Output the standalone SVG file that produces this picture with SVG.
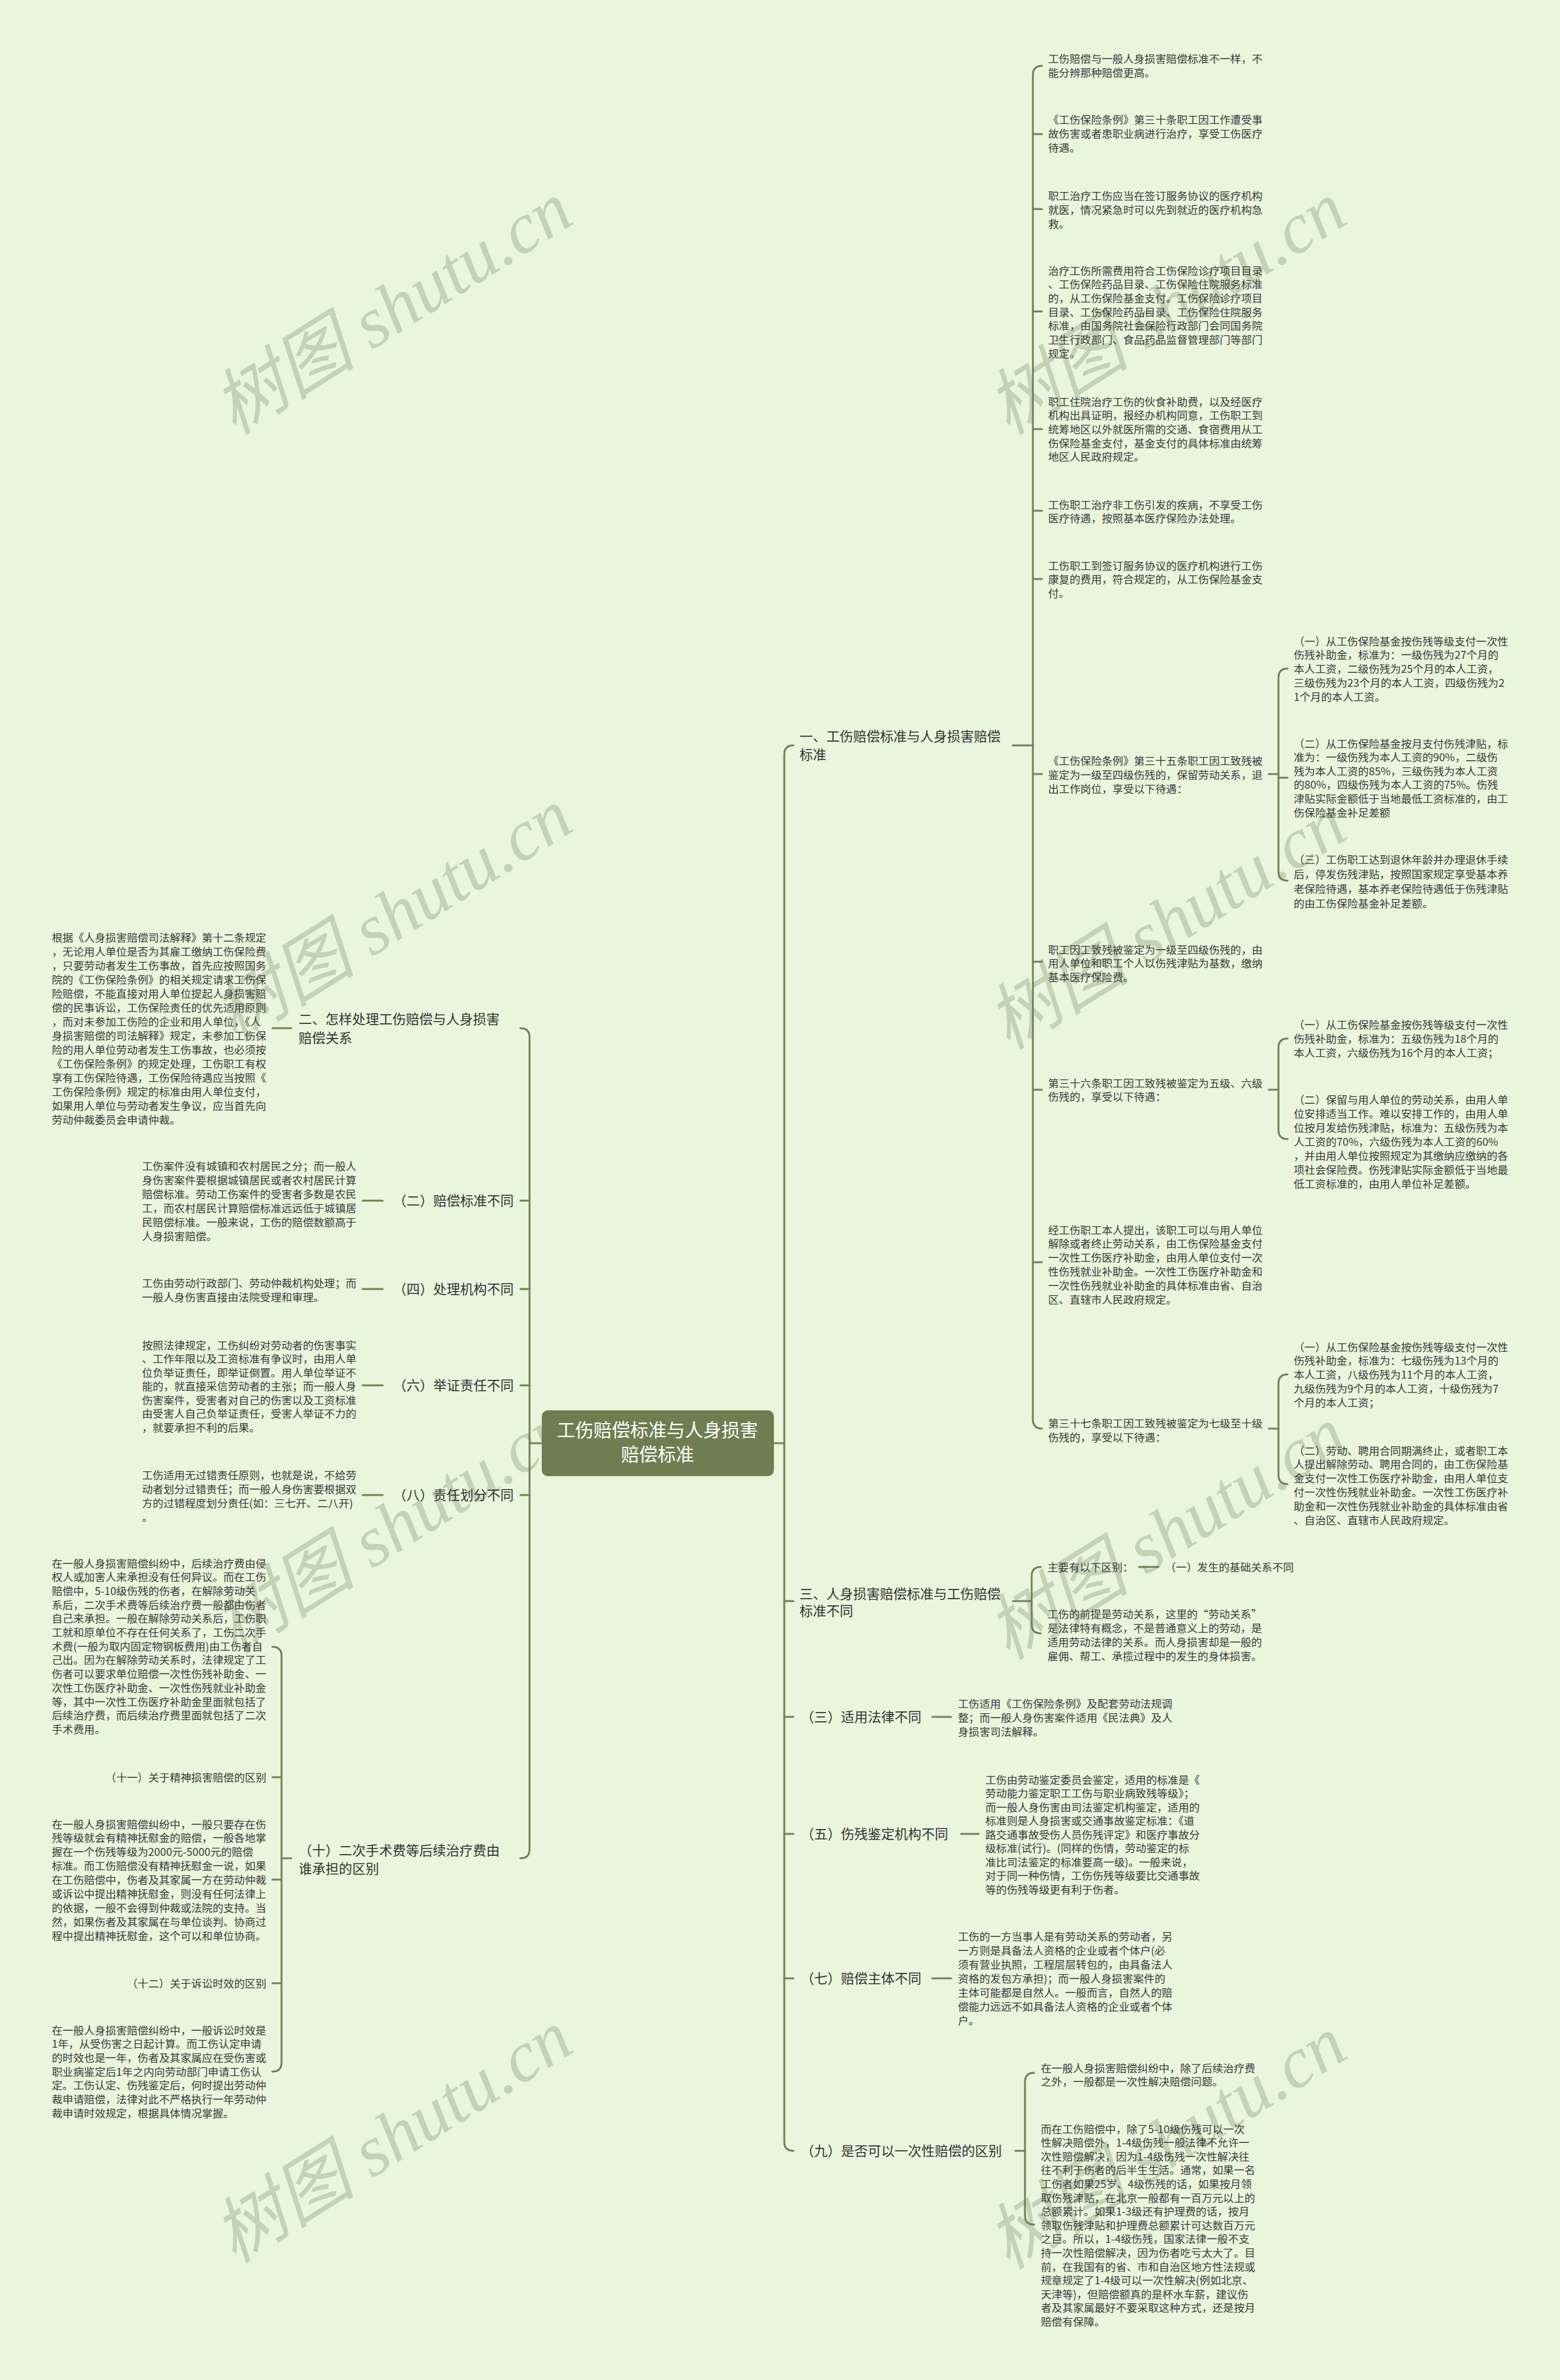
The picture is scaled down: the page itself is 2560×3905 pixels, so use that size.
<svg xmlns="http://www.w3.org/2000/svg" width="2560" height="3905" viewBox="0 0 2560 3905">
<style>
text{font-family:"Noto Sans CJK SC","Noto Sans",sans-serif}
.lf{font-size:17.6px;fill:#3a3a3a}
.lb{font-size:22px;fill:#333333}
.ct{font-size:30px;fill:#ffffff}
.wm{font-family:"Liberation Serif","Noto Sans CJK SC",serif;font-size:118px;font-style:italic;fill:#c4d2b5}
.c{fill:none;stroke:#727f53;stroke-width:3;stroke-linecap:round;stroke-linejoin:round}
</style>
<rect width="2560" height="3905" fill="#e9f5dd"/>
<g id="watermarks">
<text class="wm" x="647" y="545" text-anchor="middle" transform="rotate(-32 647 510)">树图 shutu.cn</text>
<text class="wm" x="1917" y="545" text-anchor="middle" transform="rotate(-32 1917 510)">树图 shutu.cn</text>
<text class="wm" x="647" y="1541" text-anchor="middle" transform="rotate(-32 647 1506)">树图 shutu.cn</text>
<text class="wm" x="1917" y="1554" text-anchor="middle" transform="rotate(-32 1917 1519)">树图 shutu.cn</text>
<text class="wm" x="647" y="2545" text-anchor="middle" transform="rotate(-32 647 2510)">树图 shutu.cn</text>
<text class="wm" x="1917" y="2555" text-anchor="middle" transform="rotate(-32 1917 2520)">树图 shutu.cn</text>
<text class="wm" x="647" y="3545" text-anchor="middle" transform="rotate(-32 647 3510)">树图 shutu.cn</text>
<text class="wm" x="1917" y="3555" text-anchor="middle" transform="rotate(-32 1917 3520)">树图 shutu.cn</text>
</g>
<g id="connectors">
<!-- right trunk -->
<path class="c" d="M1270 2368 H1287"/>
<path class="c" d="M1302 1223 Q1287 1223 1287 1238 V3514 Q1287 3529 1302 3529"/>
<path class="c" d="M1287 2627 H1302 M1287 2817 H1302 M1287 3009 H1302 M1287 3246 H1302"/>
<!-- branch one -->
<path class="c" d="M1662 1223 H1695"/>
<path class="c" d="M1710 108 Q1695 108 1695 123 V2329 Q1695 2344 1710 2344"/>
<path class="c" d="M1695 220 H1710 M1695 343 H1710 M1695 511 H1710 M1695 704 H1710 M1695 838 H1710 M1695 950 H1710 M1695 1270 H1710 M1695 1578 H1710 M1695 1788 H1710 M1695 2071 H1710"/>
<path class="c" d="M2082 1270 H2098"/>
<path class="c" d="M2113 1097 Q2098 1097 2098 1112 V1430 Q2098 1445 2113 1445 M2098 1276 H2113"/>
<path class="c" d="M2082 1788 H2098"/>
<path class="c" d="M2113 1704 Q2098 1704 2098 1719 V1854 Q2098 1869 2113 1869"/>
<path class="c" d="M2082 2344 H2098"/>
<path class="c" d="M2113 2255 Q2098 2255 2098 2270 V2420 Q2098 2435 2113 2435"/>
<!-- branch three -->
<path class="c" d="M1662 2627 H1693"/>
<path class="c" d="M1708 2571 Q1693 2571 1693 2586 V2665 Q1693 2680 1708 2680"/>
<path class="c" d="M1869 2571 H1901"/>
<path class="c" d="M1530 2817 H1561"/>
<path class="c" d="M1577 3009 H1606"/>
<path class="c" d="M1530 3246 H1561"/>
<path class="c" d="M1666 3529 H1682"/>
<path class="c" d="M1697 3401 Q1682 3401 1682 3416 V3635 Q1682 3650 1697 3650"/>
<!-- left trunk -->
<path class="c" d="M888 2368 H869"/>
<path class="c" d="M854 1687 Q869 1687 869 1702 V3034 Q869 3049 854 3049"/>
<path class="c" d="M869 1970 H854 M869 2115 H854 M869 2273 H854 M869 2453 H854"/>
<path class="c" d="M447 1687 H478"/>
<path class="c" d="M595 1970 H628 M595 2115 H628 M595 2273 H628 M595 2453 H628"/>
<path class="c" d="M478 3049 H462"/>
<path class="c" d="M447 2702 Q462 2702 462 2717 V3384 Q462 3399 447 3399 M462 2916 H447 M462 3084 H447 M462 3254 H447"/>
</g>
<g id="center">
<rect x="889" y="2314" width="381" height="108" rx="10" fill="#6f7d50"/>
<text class="ct" text-anchor="middle"><tspan x="1079" y="2357">工伤赔偿标准与人身损害</tspan><tspan x="1079" y="2397">赔偿标准</tspan></text>
</g>
<g id="b1">
<text class="lb"><tspan x="1312" y="1216">一、工伤赔偿标准与人身损害赔偿</tspan><tspan x="1312" dy="30">标准</tspan></text>
</g>
<g id="b1-1"><text class="lf"><tspan x="1720" y="102.5">工伤赔偿与一般人身损害赔偿标准不一样，不</tspan><tspan x="1720" dy="23">能分辨那种赔偿更高。</tspan></text></g>
<g id="b1-2"><text class="lf"><tspan x="1720" y="202.5">《工伤保险条例》第三十条职工因工作遭受事</tspan><tspan x="1720" dy="23">故伤害或者患职业病进行治疗，享受工伤医疗</tspan><tspan x="1720" dy="23">待遇。</tspan></text></g>
<g id="b1-3"><text class="lf"><tspan x="1720" y="327.5">职工治疗工伤应当在签订服务协议的医疗机构</tspan><tspan x="1720" dy="23">就医，情况紧急时可以先到就近的医疗机构急</tspan><tspan x="1720" dy="23">救。</tspan></text></g>
<g id="b1-4"><text class="lf"><tspan x="1720" y="450.5">治疗工伤所需费用符合工伤保险诊疗项目目录</tspan><tspan x="1720" dy="22.7">、工伤保险药品目录、工伤保险住院服务标准</tspan><tspan x="1720" dy="22.7">的，从工伤保险基金支付。工伤保险诊疗项目</tspan><tspan x="1720" dy="22.7">目录、工伤保险药品目录、工伤保险住院服务</tspan><tspan x="1720" dy="22.7">标准，由国务院社会保险行政部门会同国务院</tspan><tspan x="1720" dy="22.7">卫生行政部门、食品药品监督管理部门等部门</tspan><tspan x="1720" dy="22.7">规定。</tspan></text></g>
<g id="b1-5"><text class="lf"><tspan x="1720" y="665.5">职工住院治疗工伤的伙食补助费，以及经医疗</tspan><tspan x="1720" dy="22.7">机构出具证明，报经办机构同意，工伤职工到</tspan><tspan x="1720" dy="22.7">统筹地区以外就医所需的交通、食宿费用从工</tspan><tspan x="1720" dy="22.7">伤保险基金支付，基金支付的具体标准由统筹</tspan><tspan x="1720" dy="22.7">地区人民政府规定。</tspan></text></g>
<g id="b1-6"><text class="lf"><tspan x="1720" y="834.5">工伤职工治疗非工伤引发的疾病，不享受工伤</tspan><tspan x="1720" dy="22.7">医疗待遇，按照基本医疗保险办法处理。</tspan></text></g>
<g id="b1-7"><text class="lf"><tspan x="1720" y="934.5">工伤职工到签订服务协议的医疗机构进行工伤</tspan><tspan x="1720" dy="22.7">康复的费用，符合规定的，从工伤保险基金支</tspan><tspan x="1720" dy="22.7">付。</tspan></text></g>
<g id="b1-8"><text class="lf"><tspan x="1720" y="1254.5">《工伤保险条例》第三十五条职工因工致残被</tspan><tspan x="1720" dy="23">鉴定为一级至四级伤残的，保留劳动关系，退</tspan><tspan x="1720" dy="23">出工作岗位，享受以下待遇：</tspan></text></g>
<g id="b1-8a"><text class="lf"><tspan x="2123" y="1058.5">（一）从工伤保险基金按伤残等级支付一次性</tspan><tspan x="2123" dy="22.8">伤残补助金，标准为：一级伤残为27个月的</tspan><tspan x="2123" dy="22.8">本人工资，二级伤残为25个月的本人工资，</tspan><tspan x="2123" dy="22.8">三级伤残为23个月的本人工资，四级伤残为2</tspan><tspan x="2123" dy="22.8">1个月的本人工资。</tspan></text></g>
<g id="b1-8b"><text class="lf"><tspan x="2123" y="1226.5">（二）从工伤保险基金按月支付伤残津贴，标</tspan><tspan x="2123" dy="22.6">准为：一级伤残为本人工资的90%，二级伤</tspan><tspan x="2123" dy="22.6">残为本人工资的85%，三级伤残为本人工资</tspan><tspan x="2123" dy="22.6">的80%，四级伤残为本人工资的75%。伤残</tspan><tspan x="2123" dy="22.6">津贴实际金额低于当地最低工资标准的，由工</tspan><tspan x="2123" dy="22.6">伤保险基金补足差额</tspan></text></g>
<g id="b1-8c"><text class="lf"><tspan x="2123" y="1416.5">（三）工伤职工达到退休年龄并办理退休手续</tspan><tspan x="2123" dy="24">后，停发伤残津贴，按照国家规定享受基本养</tspan><tspan x="2123" dy="24">老保险待遇，基本养老保险待遇低于伤残津贴</tspan><tspan x="2123" dy="24">的由工伤保险基金补足差额。</tspan></text></g>
<g id="b1-9"><text class="lf"><tspan x="1720" y="1564.5">职工因工致残被鉴定为一级至四级伤残的，由</tspan><tspan x="1720" dy="22.8">用人单位和职工个人以伤残津贴为基数，缴纳</tspan><tspan x="1720" dy="22.8">基本医疗保险费。</tspan></text></g>
<g id="b1-10"><text class="lf"><tspan x="1720" y="1783.5">第三十六条职工因工致残被鉴定为五级、六级</tspan><tspan x="1720" dy="22.8">伤残的，享受以下待遇：</tspan></text></g>
<g id="b1-10a"><text class="lf"><tspan x="2123" y="1687.5">（一）从工伤保险基金按伤残等级支付一次性</tspan><tspan x="2123" dy="23">伤残补助金，标准为：五级伤残为18个月的</tspan><tspan x="2123" dy="23">本人工资，六级伤残为16个月的本人工资；</tspan></text></g>
<g id="b1-10b"><text class="lf"><tspan x="2123" y="1810.5">（二）保留与用人单位的劳动关系，由用人单</tspan><tspan x="2123" dy="23">位安排适当工作。难以安排工作的，由用人单</tspan><tspan x="2123" dy="23">位按月发给伤残津贴，标准为：五级伤残为本</tspan><tspan x="2123" dy="23">人工资的70%，六级伤残为本人工资的60%</tspan><tspan x="2123" dy="23">，并由用人单位按照规定为其缴纳应缴纳的各</tspan><tspan x="2123" dy="23">项社会保险费。伤残津贴实际金额低于当地最</tspan><tspan x="2123" dy="23">低工资标准的，由用人单位补足差额。</tspan></text></g>
<g id="b1-11"><text class="lf"><tspan x="1720" y="2024.5">经工伤职工本人提出，该职工可以与用人单位</tspan><tspan x="1720" dy="22.8">解除或者终止劳动关系，由工伤保险基金支付</tspan><tspan x="1720" dy="22.8">一次性工伤医疗补助金，由用人单位支付一次</tspan><tspan x="1720" dy="22.8">性伤残就业补助金。一次性工伤医疗补助金和</tspan><tspan x="1720" dy="22.8">一次性伤残就业补助金的具体标准由省、自治</tspan><tspan x="1720" dy="22.8">区、直辖市人民政府规定。</tspan></text></g>
<g id="b1-12"><text class="lf"><tspan x="1720" y="2341.5">第三十七条职工因工致残被鉴定为七级至十级</tspan><tspan x="1720" dy="23">伤残的，享受以下待遇：</tspan></text></g>
<g id="b1-12a"><text class="lf"><tspan x="2123" y="2216.5">（一）从工伤保险基金按伤残等级支付一次性</tspan><tspan x="2123" dy="22.8">伤残补助金，标准为：七级伤残为13个月的</tspan><tspan x="2123" dy="22.8">本人工资，八级伤残为11个月的本人工资，</tspan><tspan x="2123" dy="22.8">九级伤残为9个月的本人工资，十级伤残为7</tspan><tspan x="2123" dy="22.8">个月的本人工资；</tspan></text></g>
<g id="b1-12b"><text class="lf"><tspan x="2123" y="2386.5">（二）劳动、聘用合同期满终止，或者职工本</tspan><tspan x="2123" dy="22.8">人提出解除劳动、聘用合同的，由工伤保险基</tspan><tspan x="2123" dy="22.8">金支付一次性工伤医疗补助金，由用人单位支</tspan><tspan x="2123" dy="22.8">付一次性伤残就业补助金。一次性工伤医疗补</tspan><tspan x="2123" dy="22.8">助金和一次性伤残就业补助金的具体标准由省</tspan><tspan x="2123" dy="22.8">、自治区、直辖市人民政府规定。</tspan></text></g>
<g id="b3"><text class="lb"><tspan x="1312" y="2623">三、人身损害赔偿标准与工伤赔偿</tspan><tspan x="1312" dy="28">标准不同</tspan></text></g>
<g id="b3-1"><text class="lf"><tspan x="1719" y="2577.5">主要有以下区别：</tspan></text></g>
<g id="b3-1a"><text class="lf"><tspan x="1912" y="2577.5">（一）发生的基础关系不同</tspan></text></g>
<g id="b3-2"><text class="lf"><tspan x="1719" y="2654.5">工伤的前提是劳动关系，这里的“劳动关系”</tspan><tspan x="1719" dy="23">是法律特有概念，不是普通意义上的劳动，是</tspan><tspan x="1719" dy="23">适用劳动法律的关系。而人身损害却是一般的</tspan><tspan x="1719" dy="23">雇佣、帮工、承揽过程中的发生的身体损害。</tspan></text></g>
<g id="b-r3"><text class="lb"><tspan x="1314" y="2825">（三）适用法律不同</tspan></text></g>
<g id="b-r3-1"><text class="lf"><tspan x="1572" y="2801.5">工伤适用《工伤保险条例》及配套劳动法规调</tspan><tspan x="1572" dy="23">整；而一般人身伤害案件适用《民法典》及人</tspan><tspan x="1572" dy="23">身损害司法解释。</tspan></text></g>
<g id="b-r5"><text class="lb"><tspan x="1314" y="3017">（五）伤残鉴定机构不同</tspan></text></g>
<g id="b-r5-1"><text class="lf"><tspan x="1617" y="2926.5">工伤由劳动鉴定委员会鉴定，适用的标准是《</tspan><tspan x="1617" dy="22.5">劳动能力鉴定职工工伤与职业病致残等级》；</tspan><tspan x="1617" dy="22.5">而一般人身伤害由司法鉴定机构鉴定，适用的</tspan><tspan x="1617" dy="22.5">标准则是人身损害或交通事故鉴定标准：《道</tspan><tspan x="1617" dy="22.5">路交通事故受伤人员伤残评定》和医疗事故分</tspan><tspan x="1617" dy="22.5">级标准(试行)。(同样的伤情，劳动鉴定的标</tspan><tspan x="1617" dy="22.5">准比司法鉴定的标准要高一级)。一般来说，</tspan><tspan x="1617" dy="22.5">对于同一种伤情，工伤伤残等级要比交通事故</tspan><tspan x="1617" dy="22.5">等的伤残等级更有利于伤者。</tspan></text></g>
<g id="b-r7"><text class="lb"><tspan x="1314" y="3254">（七）赔偿主体不同</tspan></text></g>
<g id="b-r7-1"><text class="lf"><tspan x="1572" y="3183.5">工伤的一方当事人是有劳动关系的劳动者，另</tspan><tspan x="1572" dy="23">一方则是具备法人资格的企业或者个体户(必</tspan><tspan x="1572" dy="23">须有营业执照，工程层层转包的，由具备法人</tspan><tspan x="1572" dy="23">资格的发包方承担)；而一般人身损害案件的</tspan><tspan x="1572" dy="23">主体可能都是自然人。一般而言，自然人的赔</tspan><tspan x="1572" dy="23">偿能力远远不如具备法人资格的企业或者个体</tspan><tspan x="1572" dy="23">户。</tspan></text></g>
<g id="b-r9"><text class="lb"><tspan x="1314" y="3537">（九）是否可以一次性赔偿的区别</tspan></text></g>
<g id="b-r9-1"><text class="lf"><tspan x="1708" y="3399.5">在一般人身损害赔偿纠纷中，除了后续治疗费</tspan><tspan x="1708" dy="22.6">之外，一般都是一次性解决赔偿问题。</tspan></text></g>
<g id="b-r9-2"><text class="lf"><tspan x="1708" y="3499.5">而在工伤赔偿中，除了5-10级伤残可以一次</tspan><tspan x="1708" dy="22.6">性解决赔偿外，1-4级伤残一般法律不允许一</tspan><tspan x="1708" dy="22.6">次性赔偿解决，因为1-4级伤残一次性解决往</tspan><tspan x="1708" dy="22.6">往不利于伤者的后半生生活。通常，如果一名</tspan><tspan x="1708" dy="22.6">工伤者如果25岁、4级伤残的话，如果按月领</tspan><tspan x="1708" dy="22.6">取伤残津贴，在北京一般都有一百万元以上的</tspan><tspan x="1708" dy="22.6">总额累计。如果1-3级还有护理费的话，按月</tspan><tspan x="1708" dy="22.6">领取伤残津贴和护理费总额累计可达数百万元</tspan><tspan x="1708" dy="22.6">之巨。所以，1-4级伤残，国家法律一般不支</tspan><tspan x="1708" dy="22.6">持一次性赔偿解决，因为伤者吃亏太大了。目</tspan><tspan x="1708" dy="22.6">前，在我国有的省、市和自治区地方性法规或</tspan><tspan x="1708" dy="22.6">规章规定了1-4级可以一次性解决(例如北京、</tspan><tspan x="1708" dy="22.6">天津等)，但赔偿额真的是杯水车薪，建议伤</tspan><tspan x="1708" dy="22.6">者及其家属最好不要采取这种方式，还是按月</tspan><tspan x="1708" dy="22.6">赔偿有保障。</tspan></text></g>
<g id="b2"><text class="lb"><tspan x="490" y="1680">二、怎样处理工伤赔偿与人身损害</tspan><tspan x="490" dy="31">赔偿关系</tspan></text></g>
<g id="b2-1"><text class="lf"><tspan x="85" y="1544.5">根据《人身损害赔偿司法解释》第十二条规定</tspan><tspan x="85" dy="23">，无论用人单位是否为其雇工缴纳工伤保险费</tspan><tspan x="85" dy="23">，只要劳动者发生工伤事故，首先应按照国务</tspan><tspan x="85" dy="23">院的《工伤保险条例》的相关规定请求工伤保</tspan><tspan x="85" dy="23">险赔偿，不能直接对用人单位提起人身损害赔</tspan><tspan x="85" dy="23">偿的民事诉讼，工伤保险责任的优先适用原则</tspan><tspan x="85" dy="23">，而对未参加工伤险的企业和用人单位，《人</tspan><tspan x="85" dy="23">身损害赔偿的司法解释》规定，未参加工伤保</tspan><tspan x="85" dy="23">险的用人单位劳动者发生工伤事故，也必须按</tspan><tspan x="85" dy="23">《工伤保险条例》的规定处理，工伤职工有权</tspan><tspan x="85" dy="23">享有工伤保险待遇，工伤保险待遇应当按照《</tspan><tspan x="85" dy="23">工伤保险条例》规定的标准由用人单位支付，</tspan><tspan x="85" dy="23">如果用人单位与劳动者发生争议，应当首先向</tspan><tspan x="85" dy="23">劳动仲裁委员会申请仲裁。</tspan></text></g>
<g id="b-l2"><text class="lb" text-anchor="end"><tspan x="843" y="1978">（二）赔偿标准不同</tspan></text></g>
<g id="b-l2-1"><text class="lf"><tspan x="233" y="1919.5">工伤案件没有城镇和农村居民之分；而一般人</tspan><tspan x="233" dy="23">身伤害案件要根据城镇居民或者农村居民计算</tspan><tspan x="233" dy="23">赔偿标准。劳动工伤案件的受害者多数是农民</tspan><tspan x="233" dy="23">工，而农村居民计算赔偿标准远远低于城镇居</tspan><tspan x="233" dy="23">民赔偿标准。一般来说，工伤的赔偿数额高于</tspan><tspan x="233" dy="23">人身损害赔偿。</tspan></text></g>
<g id="b-l4"><text class="lb" text-anchor="end"><tspan x="843" y="2123">（四）处理机构不同</tspan></text></g>
<g id="b-l4-1"><text class="lf"><tspan x="233" y="2111.5">工伤由劳动行政部门、劳动仲裁机构处理；而</tspan><tspan x="233" dy="23">一般人身伤害直接由法院受理和审理。</tspan></text></g>
<g id="b-l6"><text class="lb" text-anchor="end"><tspan x="843" y="2281">（六）举证责任不同</tspan></text></g>
<g id="b-l6-1"><text class="lf"><tspan x="233" y="2213.5">按照法律规定，工伤纠纷对劳动者的伤害事实</tspan><tspan x="233" dy="22.5">、工作年限以及工资标准有争议时，由用人单</tspan><tspan x="233" dy="22.5">位负举证责任，即举证倒置。用人单位举证不</tspan><tspan x="233" dy="22.5">能的，就直接采信劳动者的主张；而一般人身</tspan><tspan x="233" dy="22.5">伤害案件，受害者对自己的伤害以及工资标准</tspan><tspan x="233" dy="22.5">由受害人自己负举证责任，受害人举证不力的</tspan><tspan x="233" dy="22.5">，就要承担不利的后果。</tspan></text></g>
<g id="b-l8"><text class="lb" text-anchor="end"><tspan x="843" y="2461">（八）责任划分不同</tspan></text></g>
<g id="b-l8-1"><text class="lf"><tspan x="233" y="2426.5">工伤适用无过错责任原则，也就是说，不给劳</tspan><tspan x="233" dy="23">动者划分过错责任；而一般人身伤害要根据双</tspan><tspan x="233" dy="23">方的过错程度划分责任(如：三七开、二八开)</tspan><tspan x="233" dy="23">。</tspan></text></g>
<g id="b-l10"><text class="lb"><tspan x="490" y="3044">（十）二次手术费等后续治疗费由</tspan><tspan x="490" dy="30">谁承担的区别</tspan></text></g>
<g id="b-l10-1"><text class="lf"><tspan x="85" y="2571.5">在一般人身损害赔偿纠纷中，后续治疗费由侵</tspan><tspan x="85" dy="22.7">权人或加害人来承担没有任何异议。而在工伤</tspan><tspan x="85" dy="22.7">赔偿中，5-10级伤残的伤者，在解除劳动关</tspan><tspan x="85" dy="22.7">系后，二次手术费等后续治疗费一般都由伤者</tspan><tspan x="85" dy="22.7">自己来承担。一般在解除劳动关系后，工伤职</tspan><tspan x="85" dy="22.7">工就和原单位不存在任何关系了，工伤二次手</tspan><tspan x="85" dy="22.7">术费(一般为取内固定物钢板费用)由工伤者自</tspan><tspan x="85" dy="22.7">己出。因为在解除劳动关系时，法律规定了工</tspan><tspan x="85" dy="22.7">伤者可以要求单位赔偿一次性伤残补助金、一</tspan><tspan x="85" dy="22.7">次性工伤医疗补助金、一次性伤残就业补助金</tspan><tspan x="85" dy="22.7">等，其中一次性工伤医疗补助金里面就包括了</tspan><tspan x="85" dy="22.7">后续治疗费，而后续治疗费里面就包括了二次</tspan><tspan x="85" dy="22.7">手术费用。</tspan></text></g>
<g id="b-l10-2"><text class="lf" text-anchor="end"><tspan x="437" y="2922.5">（十一）关于精神损害赔偿的区别</tspan></text></g>
<g id="b-l10-3"><text class="lf"><tspan x="85" y="2999.5">在一般人身损害赔偿纠纷中，一般只要存在伤</tspan><tspan x="85" dy="22.9">残等级就会有精神抚慰金的赔偿，一般各地掌</tspan><tspan x="85" dy="22.9">握在一个伤残等级为2000元-5000元的赔偿</tspan><tspan x="85" dy="22.9">标准。而工伤赔偿没有精神抚慰金一说，如果</tspan><tspan x="85" dy="22.9">在工伤赔偿中，伤者及其家属一方在劳动仲裁</tspan><tspan x="85" dy="22.9">或诉讼中提出精神抚慰金，则没有任何法律上</tspan><tspan x="85" dy="22.9">的依据，一般不会得到仲裁或法院的支持。当</tspan><tspan x="85" dy="22.9">然，如果伤者及其家属在与单位谈判、协商过</tspan><tspan x="85" dy="22.9">程中提出精神抚慰金，这个可以和单位协商。</tspan></text></g>
<g id="b-l10-4"><text class="lf" text-anchor="end"><tspan x="437" y="3260.5">（十二）关于诉讼时效的区别</tspan></text></g>
<g id="b-l10-5"><text class="lf"><tspan x="85" y="3337.5">在一般人身损害赔偿纠纷中，一般诉讼时效是</tspan><tspan x="85" dy="22.7">1年，从受伤害之日起计算。而工伤认定申请</tspan><tspan x="85" dy="22.7">的时效也是一年，伤者及其家属应在受伤害或</tspan><tspan x="85" dy="22.7">职业病鉴定后1年之内向劳动部门申请工伤认</tspan><tspan x="85" dy="22.7">定。工伤认定、伤残鉴定后，何时提出劳动仲</tspan><tspan x="85" dy="22.7">裁申请赔偿，法律对此不严格执行一年劳动仲</tspan><tspan x="85" dy="22.7">裁申请时效规定，根据具体情况掌握。</tspan></text></g>
</svg>
